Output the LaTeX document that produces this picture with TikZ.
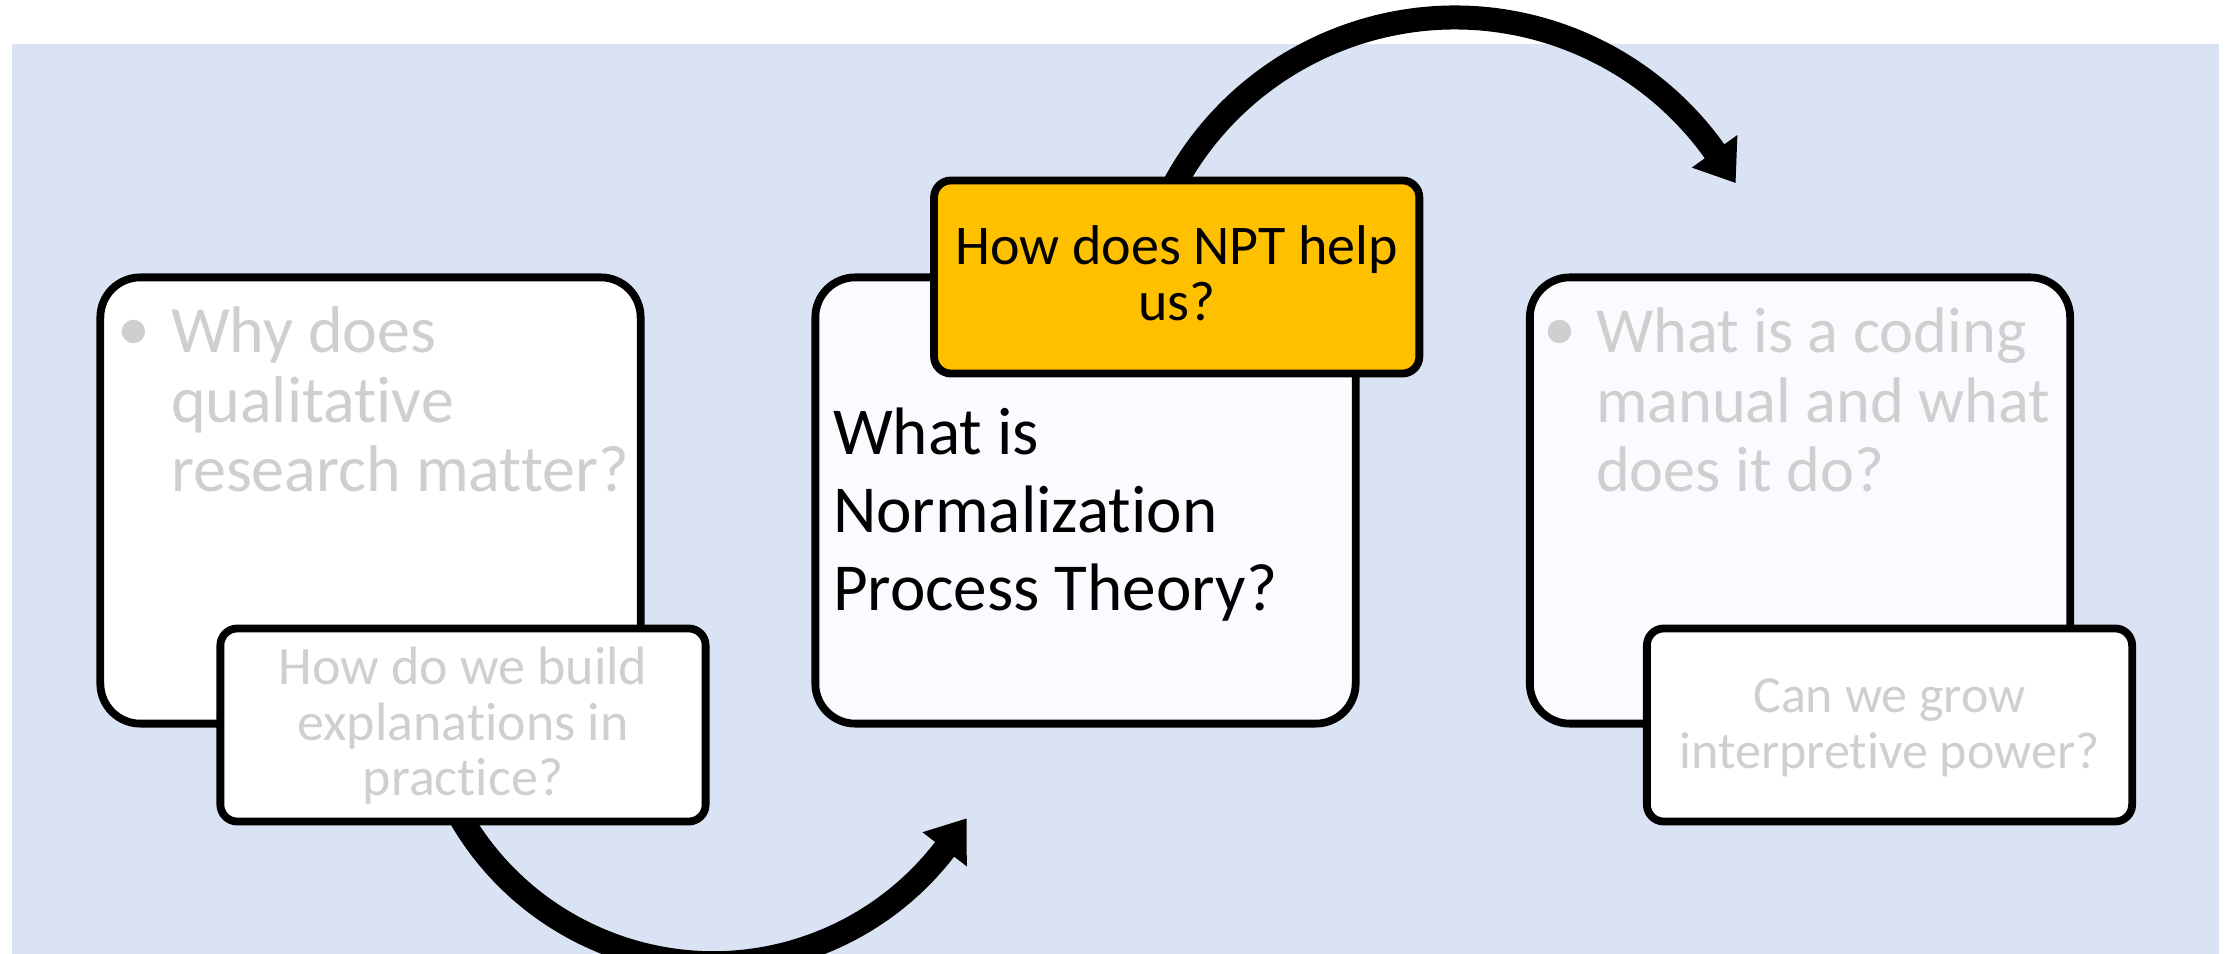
\documentclass[tikz,border=0pt]{standalone}
\usepackage{fontspec}
\setmainfont{Carlito}[Ligatures={NoCommon}]
\usetikzlibrary{calc}
\definecolor{bgblue}{HTML}{DAE3F3}
\definecolor{yellowbox}{HTML}{FFC000}
\definecolor{graytext}{HTML}{D0CECE}
\definecolor{palebox}{HTML}{F9FBFE}
\newcommand\fBigLR{\fontsize{18.78pt}{19.63pt}\selectfont}
\newcommand\fBigRR{\fontsize{18.3pt}{19.63pt}\selectfont}
\newcommand\fBigM{\fontsize{19.1pt}{22.05pt}\selectfont}
\newcommand\fYel{\fontsize{15.93pt}{15.65pt}\selectfont}
\newcommand\fSmL{\fontsize{15.36pt}{15.65pt}\selectfont}
\newcommand\fSmR{\fontsize{14.8pt}{15.65pt}\selectfont}
\pgfdeclarelayer{background}
\pgfsetlayers{background,main}
\tikzset{
  boxbase/.style={draw=black, line width=0.078cm, rectangle, inner sep=0pt, outer sep=0pt},
  bigbox/.style={boxbase, minimum width=5.40cm, minimum height=4.46cm, rounded corners=0.40cm},
  smallbox/.style={boxbase, minimum width=4.85cm, minimum height=1.93cm, rounded corners=0.17cm},
  txt/.style={inner sep=0pt, outer sep=0pt},
  curvearrow/.style={draw=black, line width=0.24cm},
  arrowhead/.style={fill=black}
}
\begin{document}
\begin{tikzpicture}[x=0.01cm,y=0.01cm]
\useasboundingbox (0,0) rectangle (2226,954);
% boxes
\node[bigbox, fill=white] (L) at (370.5,453.5) {};
\node[bigbox, fill=palebox] (M) at (1085.5,453.5) {};
\node[bigbox, fill=palebox] (R) at (1800,453.5) {};
\node[smallbox, fill=yellowbox] (Y) at (1176.7,677) {};
\node[smallbox, fill=white] (SL) at (463,229) {};
\node[smallbox, fill=white] (SR) at (1889.5,229) {};
% texts
\node[txt, anchor=base, text=graytext, font=\fBigLR] (Lbul) at (134,603) {\textbullet};
\node[txt, anchor=base west, text=graytext, font=\fBigLR] (Ltext) at (171,601)
  {\begin{tabular}[t]{@{}l@{}}Why does\\qualitative\\research matter?\end{tabular}};
\node[txt, anchor=base west, text=black, font=\fBigM] (Mtext) at (833,499)
  {\begin{tabular}[t]{@{}l@{}}What is\\Normalization\\Process Theory?\end{tabular}};
\node[txt, anchor=base, text=graytext, font=\fBigLR] (Rbul) at (1560,603) {\textbullet};
\node[txt, anchor=base west, text=graytext, font=\fBigRR] (Rtext) at (1596,601)
  {\begin{tabular}[t]{@{}l@{}}What is a coding\\manual and what\\does it do?\end{tabular}};
\node[txt, anchor=base, text=black, font=\fYel] (Ytext) at (1176.7,689)
  {\begin{tabular}[t]{@{}c@{}}How does NPT help\\us?\end{tabular}};
\node[txt, anchor=base, text=graytext, font=\fSmL] (SLtext) at (463,269)
  {\begin{tabular}[t]{@{}c@{}}How do we build\\explanations in\\practice?\end{tabular}};
\node[txt, anchor=base, text=graytext, font=\fSmR] (SRtext) at (1889.5,241)
  {\begin{tabular}[t]{@{}c@{}}Can we grow\\interpretive power?\end{tabular}};
\begin{pgfonlayer}{background}
  \fill[bgblue] (12,0) rectangle (2219,910);
  % top curved arrow from the yellow box
  \coordinate (ctop) at ($(Y.north)+(-29.3:319)$);
  \draw[curvearrow] ($(ctop)+(158:319)$) arc[start angle=158, end angle=34.5, radius=319];
  \fill[arrowhead] ($(ctop)+(35.5:291)$) -- ($(ctop)+(35.5:347)$) -- ($(ctop)+(28.7:320)$) -- cycle;
  % bottom curved arrow from the left small box
  \coordinate (cbot) at ($(SL.south)+(31:292)$);
  \draw[curvearrow] ($(cbot)+(204:292)$) arc[start angle=204, end angle=323.4, radius=292];
  \fill[arrowhead] ($(cbot)+(322.4:264)$) -- ($(cbot)+(322.4:320)$) -- ($(cbot)+(329.8:293)$) -- cycle;
\end{pgfonlayer}
\end{tikzpicture}
\end{document}
